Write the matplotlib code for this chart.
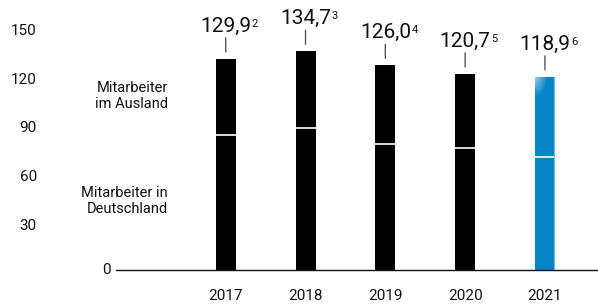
import numpy as np
import matplotlib.pyplot as plt
from matplotlib.transforms import ScaledTranslation

plt.rcParams['font.family'] = ['Roboto', 'DejaVu Sans']

years = ['2017', '2018', '2019', '2020', '2021']
totals = [129.9, 134.7, 126.0, 120.7, 118.9]
germany = [83.1, 87.4, 77.5, 75.0, 69.4]
total_labels = ['129,9', '134,7', '126,0', '120,7', '118,9']
footnotes = ['2', '3', '4', '5', '6']
yticks = [30, 60, 90, 120, 150]

fig = plt.figure(figsize=(5.98, 3.06), dpi=100)
ax = fig.add_axes([116 / 598, 36 / 306, 482 / 598, 243.75 / 306])

x = np.arange(len(years))
width = 0.25
colors = ['black'] * 4 + ['#0784c6']
abroad = [t - g for t, g in zip(totals, germany)]
ax.bar(x, germany, width, color=colors, linewidth=0)
bars_top = ax.bar(x, abroad, width, bottom=germany, color=colors, linewidth=0)
ax.hlines(germany, x - width / 2, x + width / 2, color='white', lw=1.2)

# soft highlight on the current-year bar
blue = bars_top[-1]
bx, by = blue.get_x(), blue.get_y()
bw, bh = blue.get_width(), blue.get_height()
gy, gx = np.mgrid[0:1:60j, 0:1:20j]
glow = np.clip(1 - np.hypot(gx * 1.6, (1 - gy) * 4.0), 0, 1) * 0.6
rgba = np.zeros(gy.shape + (4,))
rgba[..., :3] = 1.0
rgba[..., 3] = glow
im = ax.imshow(rgba, extent=[bx, bx + bw, by, by + bh], origin='lower',
               aspect='auto', zorder=3, interpolation='bilinear')
im.set_clip_path(blue)
ax.plot([bx + bw * 0.96] * 2, [0, totals[-1]], color='#6cc0ea', lw=0.8, zorder=4)

ax.set_xlim(-1.375, 4.665)
ax.set_ylim(0, 150)

for s in ['top', 'right', 'left']:
    ax.spines[s].set_visible(False)
ax.spines['bottom'].set_linewidth(1.0)
ax.spines['bottom'].set_color('#111111')

ax.set_xticks(x, years)
ax.tick_params(axis='x', length=0, pad=14, labelsize=11, labelcolor='#111111')
ax.set_yticks(yticks, [str(v) for v in yticks])
ax.tick_params(axis='y', length=0, pad=57, labelsize=11, labelcolor='#111111')
for lbl in ax.get_yticklabels():
    lbl.set_transform(lbl.get_transform() + ScaledTranslation(0, -3 / 100, fig.dpi_scale_trans))
ax.annotate('0', xy=(0, 0), xycoords=('axes fraction', 'data'), xytext=(-5, 0),
            textcoords='offset pixels', ha='right', va='center', fontsize=11,
            color='#111111')

ax.text(-0.723, 107, 'Mitarbeiter\nim Ausland', ha='right', va='center',
        fontsize=10.5, linespacing=1.25, color='#111111')
ax.text(-0.723, 42.5, 'Mitarbeiter in\nDeutschland', ha='right', va='center',
        fontsize=10.5, linespacing=1.25, color='#111111')

value_texts = []
for i, (t, lab) in enumerate(zip(totals, total_labels)):
    ax.annotate('', xy=(i, t), xytext=(0, 21), textcoords='offset pixels',
                arrowprops=dict(arrowstyle='-', color='#555555', lw=1,
                                shrinkA=0, shrinkB=5))
    vt = ax.annotate(lab, xy=(i, t), xytext=(0, 27), textcoords='offset pixels',
                     ha='center', va='baseline', fontsize=15, color='#111111')
    value_texts.append(vt)

fig.canvas.draw()
for vt, fn in zip(value_texts, footnotes):
    bb = vt.get_window_extent()
    fig.text(bb.x1 + 0.5, bb.y1 - 2, fn, transform=None, ha='left', va='top',
             fontsize=8, color='#111111')

fig.savefig('out.png', dpi=100)
